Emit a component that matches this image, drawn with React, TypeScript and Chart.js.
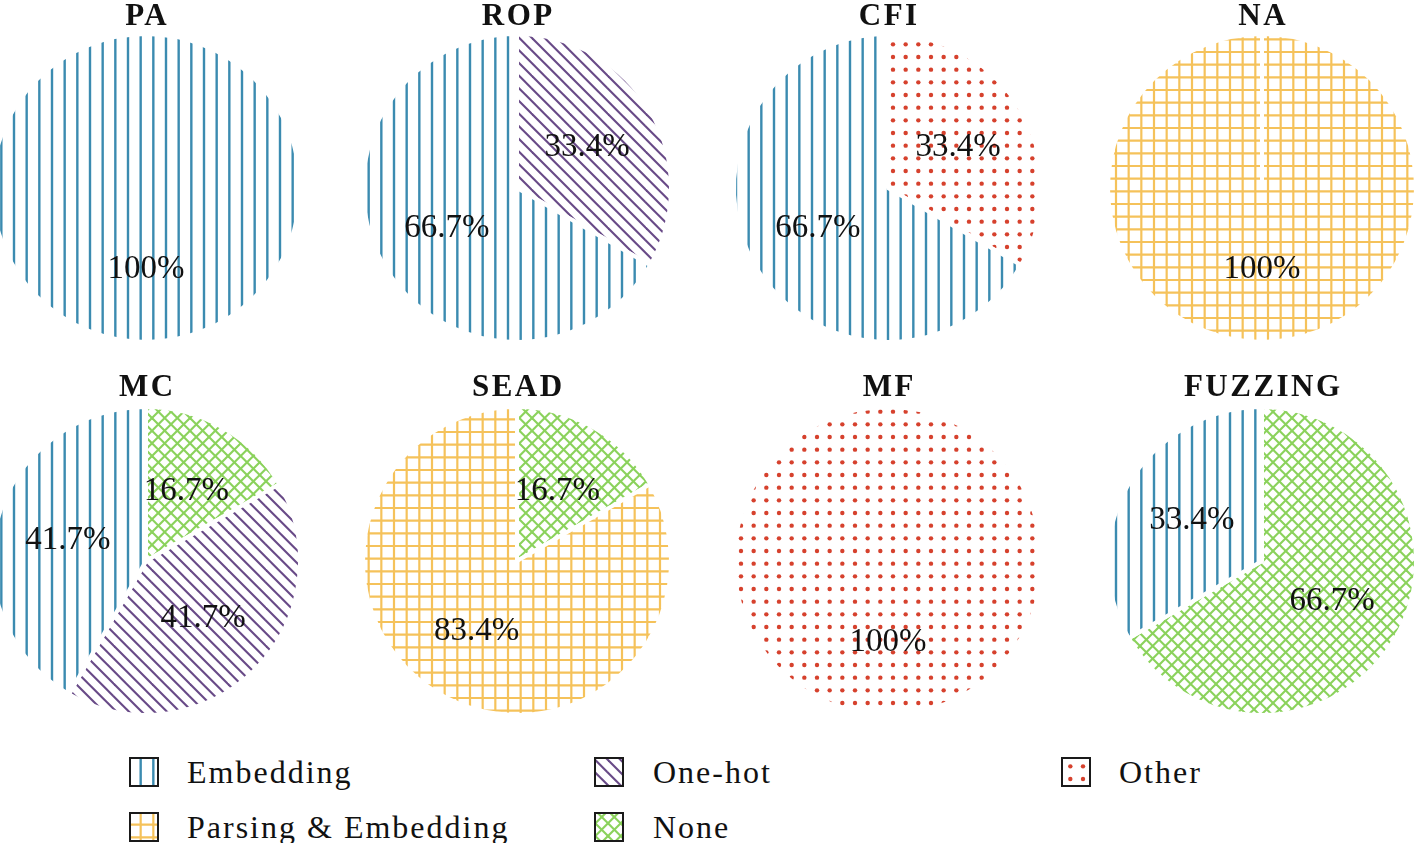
import React, { useEffect, useRef } from 'react';
import { Chart, registerables } from 'chart.js';

Chart.register(...registerables);

// ---------- data ----------
const pieTitles = ['PA', 'ROP', 'CFI', 'NA', 'MC', 'SEAD', 'MF', 'FUZZING'];
// legend order (column-major, 3 columns)
const categories = ['Embedding', 'Parsing & Embedding', 'One-hot', 'None', 'Other'];
// clockwise slice order starting at 12 o'clock
const sliceOrder = ['None', 'Other', 'One-hot', 'Parsing & Embedding', 'Embedding'];

const embeddingValues = [100, 66.7, 66.7, 0, 41.7, 0, 0, 33.4];
const parsingValues = [0, 0, 0, 100, 0, 83.4, 0, 0];
const oneHotValues = [0, 33.4, 0, 0, 41.7, 0, 0, 0];
const noneValues = [0, 0, 0, 0, 16.7, 16.7, 0, 66.7];
const otherValues = [0, 0, 33.4, 0, 0, 0, 100, 0];

const valuesByCategory: Record<string, number[]> = {
  'Embedding': embeddingValues,
  'Parsing & Embedding': parsingValues,
  'One-hot': oneHotValues,
  'None': noneValues,
  'Other': otherValues,
};

// ---------- styles ----------
const COLORS: Record<string, string> = {
  'Embedding': '#3b8bb0',
  'Parsing & Embedding': '#f5c25a',
  'One-hot': '#684a87',
  'None': '#8bd25c',
  'Other': '#d6412d',
};
const HATCH: Record<string, string> = {
  'Embedding': '|',
  'Parsing & Embedding': '+',
  'One-hot': '\\',
  'None': 'x',
  'Other': '.',
};

const W = 1416;
const H = 843;
const CENTERS_X = [146, 517, 888, 1262];
const CENTERS_Y = [188, 561];
const TITLE_BASELINE = [25, 396];
const CANVAS = 320;
const RADIUS = 154;
const LABEL_FRAC = 0.525;
const SERIF = '"Liberation Serif", "Times New Roman", serif';

const TILE = 38;
const STEP = TILE / 3;
const OFF = 1.33;

function makeTile(kind: string, color: string): HTMLCanvasElement {
  const c = document.createElement('canvas');
  c.width = TILE;
  c.height = TILE;
  const g = c.getContext('2d')!;
  g.strokeStyle = color;
  g.fillStyle = color;
  g.lineWidth = kind === '|' ? 2.4 : 2.2;
  if (kind === '|' || kind === '+') {
    for (let k = 0; k < 3; k++) {
      const x = OFF + k * STEP;
      g.beginPath();
      g.moveTo(x, 0);
      g.lineTo(x, TILE);
      g.stroke();
    }
  }
  if (kind === '+') {
    for (let k = 0; k < 3; k++) {
      const y = OFF + k * STEP;
      g.beginPath();
      g.moveTo(0, y);
      g.lineTo(TILE, y);
      g.stroke();
    }
  }
  if (kind === '\\' || kind === 'x') {
    g.lineWidth = 2.1;
    for (let k = -6; k <= 6; k++) {
      const cst = k * STEP;
      g.beginPath();
      g.moveTo(-TILE, -TILE + cst);
      g.lineTo(2 * TILE, 2 * TILE + cst);
      g.stroke();
    }
  }
  if (kind === 'x') {
    for (let k = -3; k <= 9; k++) {
      const cst = k * STEP;
      g.beginPath();
      g.moveTo(-TILE, cst + TILE);
      g.lineTo(2 * TILE, cst - 2 * TILE);
      g.stroke();
    }
  }
  if (kind === '.') {
    for (let i = 0; i < 3; i++) {
      for (let j = 0; j < 3; j++) {
        g.beginPath();
        g.arc(STEP / 2 + i * STEP, STEP / 2 + j * STEP, 2.2, 0, Math.PI * 2);
        g.fill();
      }
    }
  }
  return c;
}

function makePattern(ctx: CanvasRenderingContext2D, cat: string, left: number, top: number) {
  const p = ctx.createPattern(makeTile(HATCH[cat], COLORS[cat]), 'repeat')!;
  try {
    p.setTransform(new DOMMatrix([1, 0, 0, 1, -left, -top]));
  } catch (e) {
    /* ignore */
  }
  return p;
}

const pctLabels = {
  id: 'pctLabels',
  afterDatasetsDraw(chart: any) {
    const ctx = chart.ctx as CanvasRenderingContext2D;
    const meta = chart.getDatasetMeta(0);
    const data = chart.data.datasets[0].data as number[];
    ctx.save();
    ctx.font = `33px ${SERIF}`;
    ctx.fillStyle = '#111111';
    ctx.textAlign = 'center';
    ctx.textBaseline = 'middle';
    meta.data.forEach((arc: any, i: number) => {
      const v = data[i];
      if (!v) return;
      const { x, y, startAngle, endAngle, outerRadius } = arc.getProps(
        ['x', 'y', 'startAngle', 'endAngle', 'outerRadius'],
        true
      );
      const mid = (startAngle + endAngle) / 2;
      const r = LABEL_FRAC * outerRadius;
      ctx.fillText(`${v}%`, x + Math.cos(mid) * r, y + Math.sin(mid) * r);
    });
    ctx.restore();
  },
};

function PieCanvas({ index }: { index: number }) {
  const ref = useRef<HTMLCanvasElement>(null);
  const col = index % 4;
  const row = Math.floor(index / 4);
  const left = CENTERS_X[col] - CANVAS / 2;
  const top = CENTERS_Y[row] - CANVAS / 2;
  useEffect(() => {
    const canvas = ref.current!;
    const ctx = canvas.getContext('2d')!;
    const values = sliceOrder.map((c) => valuesByCategory[c][index]);
    const chart = new Chart(ctx, {
      type: 'pie',
      data: {
        labels: sliceOrder,
        datasets: [
          {
            data: values,
            backgroundColor: sliceOrder.map((c) => makePattern(ctx, c, left, top)),
            borderColor: '#ffffff',
            borderWidth: 4,
            hoverBorderWidth: 4,
            hoverOffset: 0,
          },
        ],
      },
      options: {
        responsive: false,
        animation: false,
        radius: RADIUS,
        layout: { padding: 0 },
        events: [],
        plugins: {
          legend: { display: false },
          tooltip: { enabled: false },
          title: { display: false },
        },
      } as any,
      plugins: [pctLabels],
    });
    return () => chart.destroy();
  }, [index]);
  return (
    <canvas
      ref={ref}
      width={CANVAS}
      height={CANVAS}
      style={{ position: 'absolute', left, top, width: CANVAS, height: CANVAS }}
    />
  );
}

function Swatch({ cat, left, top }: { cat: string; left: number; top: number }) {
  const ref = useRef<HTMLCanvasElement>(null);
  useEffect(() => {
    const c = ref.current!;
    const g = c.getContext('2d')!;
    g.clearRect(0, 0, 30, 30);
    g.fillStyle = '#ffffff';
    g.fillRect(0, 0, 30, 30);
    g.fillStyle = makePattern(g, cat, left, top);
    g.fillRect(1, 1, 28, 28);
    g.strokeStyle = '#1a1a1a';
    g.lineWidth = 2;
    g.strokeRect(1, 1, 28, 28);
  }, [cat, left, top]);
  return (
    <canvas
      ref={ref}
      width={30}
      height={30}
      style={{ position: 'absolute', left, top, width: 30, height: 30 }}
    />
  );
}

const LEGEND_SWATCH_X = [129, 594, 1061];
const LEGEND_TEXT_X = [187, 653, 1119];
const LEGEND_ROW_Y = [771.5, 826.5];

export default function App() {
  useEffect(() => {
    document.body.style.margin = '0';
  }, []);
  return (
    <div
      style={{
        position: 'fixed',
        left: 0,
        top: 0,
        width: W,
        height: H,
        overflow: 'hidden',
        background: '#ffffff',
      }}
    >
      {pieTitles.map((t, i) => (
        <PieCanvas key={t} index={i} />
      ))}
      {pieTitles.map((t, i) => {
        const col = i % 4;
        const row = Math.floor(i / 4);
        return (
          <div
            key={'t' + t}
            style={{
              position: 'absolute',
              left: CENTERS_X[col] - 150,
              width: 300,
              top: TITLE_BASELINE[row] - 26,
              height: 31,
              lineHeight: '31px',
              textAlign: 'center',
              fontFamily: SERIF,
              fontWeight: 'bold',
              fontSize: 31,
              letterSpacing: 2.5,
              paddingLeft: 2.5,
              boxSizing: 'border-box',
              color: '#111111',
              whiteSpace: 'nowrap',
            }}
          >
            {t}
          </div>
        );
      })}
      {categories.map((cat, i) => {
        const col = Math.floor(i / 2);
        const row = i % 2;
        const cy = LEGEND_ROW_Y[row];
        return (
          <React.Fragment key={'l' + cat}>
            <Swatch cat={cat} left={LEGEND_SWATCH_X[col]} top={Math.round(cy - 15)} />
            <div
              style={{
                position: 'absolute',
                left: LEGEND_TEXT_X[col],
                top: cy + 11 - 26.8,
                height: 32,
                lineHeight: '32px',
                fontFamily: SERIF,
                fontSize: 32,
                letterSpacing: 2,
                color: '#111111',
                whiteSpace: 'nowrap',
              }}
            >
              {cat}
            </div>
          </React.Fragment>
        );
      })}
    </div>
  );
}
